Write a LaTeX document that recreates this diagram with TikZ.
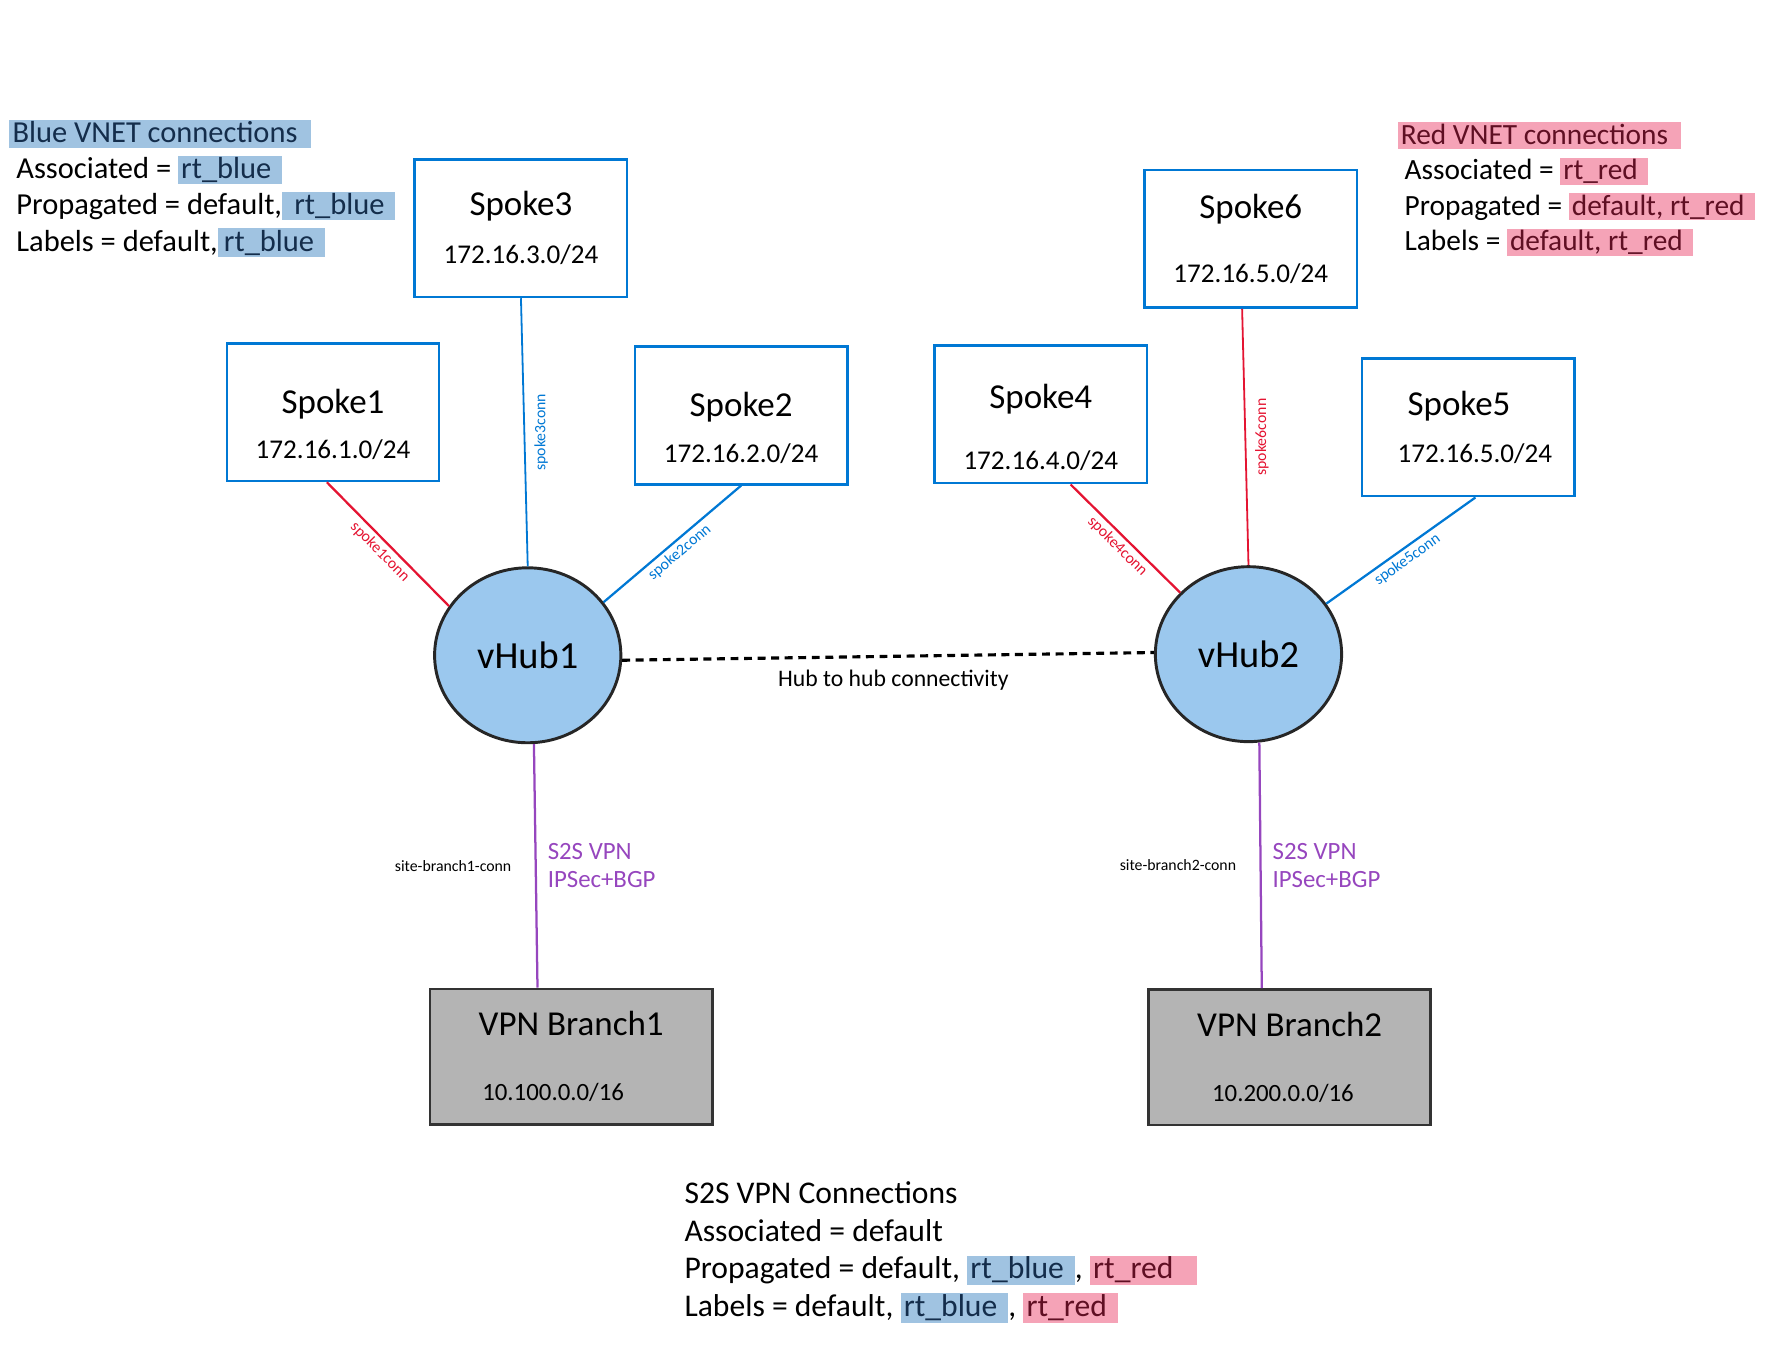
\documentclass[tikz,border=0pt]{standalone}
\usepackage{fontspec}
\setmainfont{Carlito}
\usepackage{xcolor}
\usepackage{tikz}
\usetikzlibrary{shapes,shapes.geometric,positioning,calc}
\definecolor{azblue}{RGB}{0,120,212}
\definecolor{connred}{RGB}{228,20,50}
\definecolor{vpnpurple}{RGB}{150,70,190}
\definecolor{hubfill}{RGB}{155,200,238}
\definecolor{branchgray}{RGB}{180,180,180}
\definecolor{hlblue}{RGB}{160,195,225}
\definecolor{hlred}{RGB}{245,163,183}
\definecolor{navytext}{RGB}{20,45,75}
\definecolor{maroontext}{RGB}{95,15,35}
\setlength{\fboxsep}{0pt}
\newcommand{\hlb}[1]{\colorbox{hlblue}{\rule[-0.18em]{0pt}{0.92em}\hspace{0.1em}\textcolor{navytext}{#1}\hspace{0.35em}}}
\newcommand{\hlr}[1]{\colorbox{hlred}{\rule[-0.18em]{0pt}{0.92em}\hspace{0.1em}\textcolor{maroontext}{#1}\hspace{0.35em}}}
\newcommand{\boxname}{\fontsize{15.5}{18}\selectfont}
\newcommand{\boxip}{\fontsize{12}{14}\selectfont}
\newcommand{\lowered}{\rule{0pt}{22pt}}

\begin{document}
\begin{tikzpicture}[
    x=0.5pt, y=-0.5pt,
    every node/.style={font=\fontsize{13.5}{16}\selectfont},
    spoke/.style={rectangle, draw=azblue, line width=1.2pt, minimum width=94pt,
                  minimum height=61pt, align=center, inner sep=0pt},
    hub/.style={ellipse, draw=black!85, line width=1.3pt, fill=hubfill,
                minimum width=82.5pt, minimum height=77.5pt, font=\fontsize{17}{20}\selectfont},
    branch/.style={rectangle, draw=black!80, line width=1.2pt, fill=branchgray,
                   minimum width=125pt, minimum height=60pt, align=center, inner sep=0pt},
    blueconn/.style={draw=azblue, line width=1pt},
    redconn/.style={draw=connred, line width=1pt},
    vpnconn/.style={draw=vpnpurple, line width=1pt},
    connlabel/.style={font=\fontsize{7}{8}\selectfont, inner sep=1.5pt},
    info/.style={align=left, inner sep=0pt, anchor=north west}
]
\useasboundingbox (0,0) rectangle (1568,1199);

% Blue side -- spokes around vHub1
\node[spoke] (spoke3) at (461.5,202) {{\boxname Spoke3}\\[5pt]{\boxip 172.16.3.0/24}};
\node[spoke] (spoke1) at (295,365)   {{\boxname\lowered Spoke1}\\[4pt]{\boxip 172.16.1.0/24}};
\node[spoke] (spoke2) at (656.5,368) {{\boxname\lowered Spoke2}\\[4.5pt]{\boxip 172.16.2.0/24}};
\node[hub]   (vhub1)  at (467.5,580.5) {vHub1};

% Red side -- spokes around vHub2
\node[spoke] (spoke6) at (1108,211.5) {{\boxname Spoke6}\\[12.5pt]{\boxip 172.16.5.0/24}};
\node[spoke] (spoke4) at (922,367)    {{\boxname\lowered Spoke4}\\[11pt]{\boxip 172.16.4.0/24}};
\node[spoke] (spoke5) at (1300.5,378.5) {{\boxname Spoke5\kern8pt}\\[5pt]{\boxip\kern6pt 172.16.5.0/24}};
\node[hub]   (vhub2)  at (1106,579.5) {vHub2};

% Branches
\node[branch] (branch1) at (506,936)    {{\boxname VPN Branch1}\\[13pt]{\boxip\fontsize{11}{13}\selectfont 10.100.0.0/16\kern16pt}};
\node[branch] (branch2) at (1142.5,936.5) {{\boxname VPN Branch2}\\[13pt]{\boxip\fontsize{11}{13}\selectfont 10.200.0.0/16\kern6pt}};

% Spoke connections
\draw[redconn]  (spoke1.-95) -- (vhub1.148)
    node[connlabel, midway, sloped, below, text=connred] {spoke1conn};
\draw[blueconn, line width=0.8pt] (spoke3.south) -- (vhub1.north)
    node[connlabel, midway, rotate=90, anchor=north, inner sep=4pt, text=azblue] {spoke3conn};
\draw[blueconn] (spoke2.south) -- (vhub1.35)
    node[connlabel, midway, sloped, below, text=azblue] {spoke2conn};
\draw[redconn]  (spoke4.-67) -- (vhub2.138)
    node[connlabel, midway, sloped, below, text=connred] {spoke4conn};
\draw[redconn, line width=0.8pt] (spoke6.-97) -- (vhub2.north)
    node[connlabel, midway, rotate=90, anchor=north, inner sep=4pt, text=connred] {spoke6conn};
\draw[blueconn] (spoke5.-84) -- (vhub2.33)
    node[connlabel, midway, sloped, below, text=azblue] {spoke5conn};

% Hub to hub
\draw[line width=1.4pt, dash pattern=on 3.5pt off 2.5pt] (vhub1.-3) -- (vhub2.179)
    node[pos=0.51, below=2pt, font=\fontsize{10.5}{12}\selectfont] (hublink) {Hub to hub connectivity};

% S2S VPN links
\draw[vpnconn] (vhub1.-86) -- (branch1.116)
    node[midway, left=7pt, font=\fontsize{7}{8}\selectfont] (site1) {site-branch1-conn}
    node[midway, right=1.5pt, align=left, text=vpnpurple, font=\fontsize{11}{12.5}\selectfont] (vpn1) {S2S VPN\\IPSec+BGP};
\draw[vpnconn] (vhub2.-83) -- (branch2.112)
    node[midway, left=7pt, font=\fontsize{7}{8}\selectfont] (site2) {site-branch2-conn}
    node[midway, right=1.5pt, align=left, text=vpnpurple, font=\fontsize{11}{12.5}\selectfont] (vpn2) {S2S VPN\\IPSec+BGP};

% Route table notes
\node[info] (blueinfo) at (8,106) {\hlb{Blue VNET connections\hspace{0.1em}}\\
    \ Associated = \hlb{rt\_blue}\\
    \ Propagated = default,\hlb{\hspace{0.3em}rt\_blue}\\
    \ Labels = default,\hlb{\hspace{0.1em}rt\_blue}};
\node[info, font=\fontsize{13}{15.75}\selectfont] (redinfo) at (1238,108) {\hlr{Red VNET connections\hspace{0.1em}}\\
    \ Associated = \hlr{rt\_red}\\
    \ Propagated = \hlr{default, rt\_red}\\
    \ Labels = \hlr{default, rt\_red}};
\node[info, font=\fontsize{14}{16.8}\selectfont] (s2sinfo) at (606,1046) {S2S VPN Connections\\
    Associated = default\\
    Propagated = default, \hlb{rt\_blue}, \hlr{rt\_red\hspace{0.4em}}\\
    Labels = default, \hlb{rt\_blue}, \hlr{rt\_red}};

\end{tikzpicture}
\end{document}
